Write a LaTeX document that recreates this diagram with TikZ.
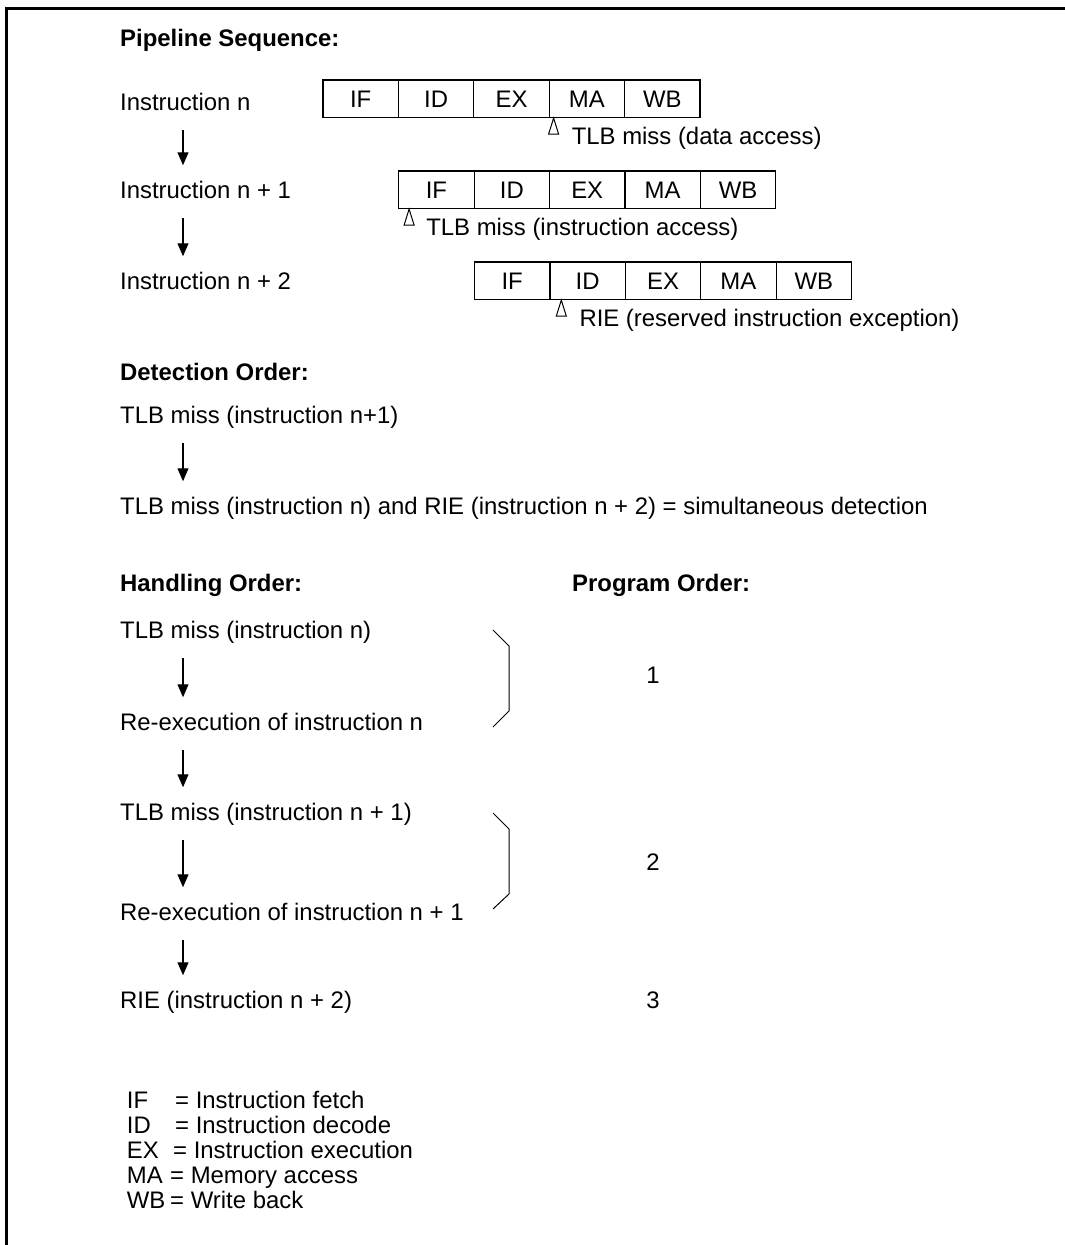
\documentclass[tikz,border=0pt]{standalone}
\usepackage{fontspec}
\setmainfont{Liberation Sans}
\usetikzlibrary{arrows.meta,positioning,calc}
\newcommand{\figfont}{\fontsize{23.9}{27.5}\selectfont}
\tikzset{
  >={Triangle[length=13pt,width=11pt]},
  txt/.style={anchor=west,inner sep=0pt,text height=17.1pt,text depth=0pt},
  hd/.style={txt,font=\figfont\bfseries},
  stg/.style={draw,line width=1.2pt,minimum width=75.4pt,minimum height=37.5pt,inner sep=0pt,text height=17.1pt,text depth=0pt},
  flow/.style={->,line width=1.2pt,shorten <=19pt,shorten >=16pt},
  brk/.style={line width=1pt},
  hit/.pic={\draw[line width=1pt] (0,0) -- (-5,16) -- (5,16) -- cycle;},
}
\newcommand{\pipe}[2]{%
  \foreach \s [count=\k from 0] in {IF,ID,EX,MA,WB}
    \node[stg] (#1-\k) at ($(#2)+(37.7+\k*75.4,18.75)$) {\s};}

\begin{document}
\begin{tikzpicture}[x=1pt,y=-1pt,font=\figfont]
  \useasboundingbox (0,0) rectangle (1065,1245);
  \draw[line width=2.7pt] (6.5,1245) -- (6.5,8.7) -- (1065,8.7);
  \node[hd] (ps) at (120,38) {Pipeline Sequence:};
  \node[txt] (i0) at (120,102) {Instruction n};
  \node[txt] (i1) at (120,190) {Instruction n + 1};
  \node[txt] (i2) at (120,281) {Instruction n + 2};
  \draw[flow] ([xshift=63pt]i0.south west) -- ([xshift=63pt]i1.north west);
  \draw[flow] ([xshift=63pt]i1.south west) -- ([xshift=63pt]i2.north west);
  \pipe{A}{323,80}\pipe{B}{398.7,171}\pipe{C}{474.5,262}
  \coordinate (tA) at ([xshift=5pt]A-3.south west);
  \coordinate (tB) at ([xshift=11pt]B-0.south west);
  \coordinate (tC) at ([xshift=12pt]C-1.south west);
  \pic at (tA) {hit};\pic at (tB) {hit};\pic at (tC) {hit};
  \node[txt] (nA) at ($(tA)+(18,18)$) {TLB miss (data access)};
  \node[txt] (nB) at ($(tB)+(17,18)$) {TLB miss (instruction access)};
  \node[txt] (nC) at ($(tC)+(18,18)$) {RIE (reserved instruction exception)};
  \node[hd] (dt) at (120,372) {Detection Order:};
  \node[txt] (d0) at (120,415) {TLB miss (instruction n+1)};
  \node[txt] (d1) at (120,506) {TLB miss (instruction n) and RIE (instruction n + 2) = simultaneous detection};
  \draw[flow] ([xshift=63pt]d0.south west) -- ([xshift=63pt]d1.north west);
  \node[hd] (ho) at (120,583) {Handling Order:};
  \node[hd] (po) at (572,583) {Program Order:};
  \node[txt] (h0) at (120,630) {TLB miss (instruction n)};
  \node[txt] (h1) at (120,722) {Re-execution of instruction n};
  \node[txt] (h2) at (120,812) {TLB miss (instruction n + 1)};
  \node[txt] (h3) at (120,912) {Re-execution of instruction n + 1};
  \node[txt] (h4) at (120,1000) {RIE (instruction n + 2)};
  \foreach \a/\b in {h0/h1,h1/h2,h2/h3,h3/h4}
    \draw[flow] ([xshift=63pt]\a.south west) -- ([xshift=63pt]\b.north west);
  \draw[brk] (493,630) -- (509,646) -- (509,711) -- (493,727);
  \draw[brk] (493,813) -- (509,829) -- (509,894) -- (493,909);
  \node[txt,anchor=center] (p1) at (653,675) {1};
  \node[txt,anchor=center] (p2) at (653,862) {2};
  \node[txt,anchor=center] (p3) at (653,1000) {3};
  \foreach \a/\b/\x [count=\k from 0] in {IF/Instruction fetch/175,ID/Instruction decode/175,EX/Instruction execution/173,MA/Memory access/170,WB/Write back/170}{
    \node[txt] (l\k) at (126.7,1100+25*\k) {\a};
    \node[txt] (m\k) at (\x,1100+25*\k) {= \b};}
\end{tikzpicture}
\end{document}
